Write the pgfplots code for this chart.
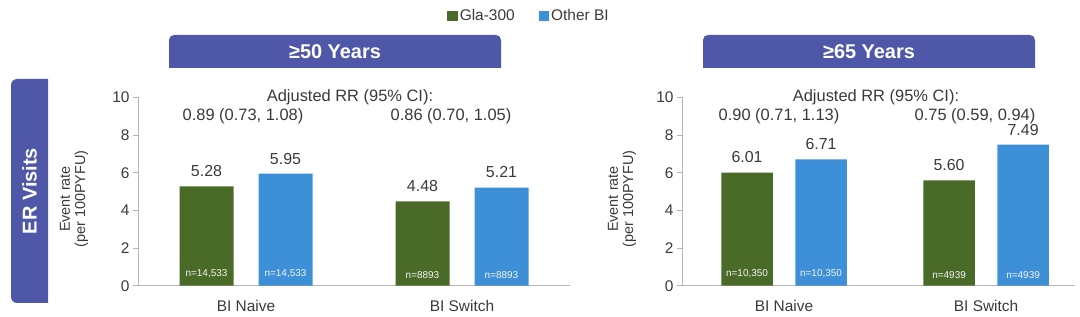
\documentclass[border=0pt]{standalone}
\usepackage{fontspec}
\setmainfont{Liberation Sans}
\usepackage{pgfplots}
\usepackage{pgfplotstable}
\pgfplotsset{compat=1.18}
\definecolor{gla}{HTML}{4A6A28}
\definecolor{obi}{HTML}{3D8FD8}
\definecolor{hdr}{HTML}{4F58A8}
\definecolor{txt}{HTML}{3A3A3A}
\definecolor{axl}{HTML}{B4B4B4}

% data
\pgfplotstableread{
x y lab
0 5.28 n=14,533
1 4.48 n=8893
}\leftgla
\pgfplotstableread{
x y lab
0 5.95 n=14,533
1 5.21 n=8893
}\leftobi
\pgfplotstableread{
x y lab
0 6.01 n=10,350
1 5.60 n=4939
}\rightgla
\pgfplotstableread{
x y lab
0 6.71 n=10,350
1 7.49 n=4939
}\rightobi

\pgfplotsset{
 panel/.style={
  scale only axis, height=188.2bp,
  ymin=0, ymax=10, ytick={0,2,...,10},
  axis x line*=bottom, axis y line*=left,
  axis line style={-, draw=axl, line width=0.9bp},
  every outer x axis line/.append style={-},
  every outer y axis line/.append style={-},
  y tick style={draw=axl, line width=0.9bp},
  tick align=outside, major tick length=5bp,
  xtick={0,1}, xticklabels={BI Naive, BI Switch},
  x tick style={draw=none},
  tick label style={font=\fontsize{15.5}{15.5}\selectfont, text=txt},
  xticklabel style={yshift=-6bp},
  /pgf/number format/assume math mode=true,
  clip=false,
  ybar,
  nodes near coords={\pgfmathprintnumber[fixed,fixed zerofill,precision=2]{\pgfplotspointmeta}},
  nodes near coords style={font=\fontsize{16}{16}\selectfont, text=txt, anchor=south, yshift=6bp},
 },
 nlab/.style={forget plot, draw=none, fill=none, point meta=explicit symbolic,
  nodes near coords={\pgfplotspointmeta},
  nodes near coords style={font=\fontsize{10}{10}\selectfont, text=white!92!gray, anchor=south, yshift=-2bp}},
}

\begin{document}
\begin{tikzpicture}
\useasboundingbox (0,0) rectangle (1080bp,317bp);

% ---------- left panel ----------
\begin{axis}[panel, at={(138bp,31.3bp)}, anchor=south west, width=432bp,
  xmin=-0.5, xmax=1.5, bar width=54bp,
  legend columns=2,
  legend style={at={(0.905,1.433)}, anchor=center, draw=none, fill=none,
    font=\fontsize{15.5}{15.5}\selectfont, text=txt,
    /tikz/every even column/.append style={column sep=22bp}},
  legend image code/.code={\fill[#1] (0bp,-5bp) rectangle (10.5bp,5.5bp);},
]
\addplot[fill=gla, draw=none, bar shift=-39.5bp] table[x=x,y=y] {\leftgla};
\addlegendentry{Gla-300}
\addplot[fill=obi, draw=none, bar shift=39.5bp] table[x=x,y=y] {\leftobi};
\addlegendentry{Other BI}
\addplot[nlab, bar shift=-39.5bp] table[x=x, y expr=0, meta=lab] {\leftgla};
\addplot[nlab, bar shift=39.5bp] table[x=x, y expr=0, meta=lab] {\leftobi};
\end{axis}

% ---------- right panel ----------
\begin{axis}[panel, at={(682bp,31.3bp)}, anchor=south west, width=393bp,
  xmin=-0.505, xmax=1.44, bar width=51.5bp]
\addplot[fill=gla, draw=none, bar shift=-37bp] table[x=x,y=y] {\rightgla};
\addplot[fill=obi, draw=none, bar shift=37bp] table[x=x,y=y] {\rightobi};
\addplot[nlab, bar shift=-37bp] table[x=x, y expr=0, meta=lab] {\rightgla};
\addplot[nlab, bar shift=37bp] table[x=x, y expr=0, meta=lab] {\rightobi};
\end{axis}

\begin{scope}[x=1bp, y=1bp]
% ER Visits side box
\fill[hdr] (48,14) -- (17,14) arc[start angle=270, end angle=180, radius=6] -- (11,232)
  arc[start angle=180, end angle=90, radius=6] -- (48,238) -- cycle;
\node[rotate=90, text=white, font=\bfseries\fontsize{20}{20}\selectfont] at (29.5,126) {ER Visits};

% title boxes
\fill[hdr] (169,249) -- (169,277) arc[start angle=180, end angle=90, radius=5] -- (496,282)
  arc[start angle=90, end angle=0, radius=5] -- (501,249) -- cycle;
\node[text=white, font=\bfseries\fontsize{20}{20}\selectfont] at (335,265.5) {≥50 Years};
\fill[hdr] (703,249) -- (703,277) arc[start angle=180, end angle=90, radius=5] -- (1030,282)
  arc[start angle=90, end angle=0, radius=5] -- (1035,249) -- cycle;
\node[text=white, font=\bfseries\fontsize{20}{20}\selectfont] at (869,265.5) {≥65 Years};

% y labels
\node[rotate=90, align=center, text=txt, font=\fontsize{14.5}{15.5}\selectfont] at (74,118) {Event rate\\(per 100PYFU)};
\node[rotate=90, align=center, text=txt, font=\fontsize{14.5}{15.5}\selectfont] at (622,118) {Event rate\\(per 100PYFU)};

% RR annotations
\begin{scope}[every node/.style={text=txt, font=\fontsize{16.5}{16.5}\selectfont}]
\node at (350,220) {Adjusted RR (95\% CI):};
\node at (243,201) {0.89 (0.73, 1.08)};
\node at (451,201) {0.86 (0.70, 1.05)};
\node at (876,220) {Adjusted RR (95\% CI):};
\node at (779,201) {0.90 (0.71, 1.13)};
\node at (975,201) {0.75 (0.59, 0.94)};
\end{scope}
\end{scope}
\end{tikzpicture}
\end{document}
